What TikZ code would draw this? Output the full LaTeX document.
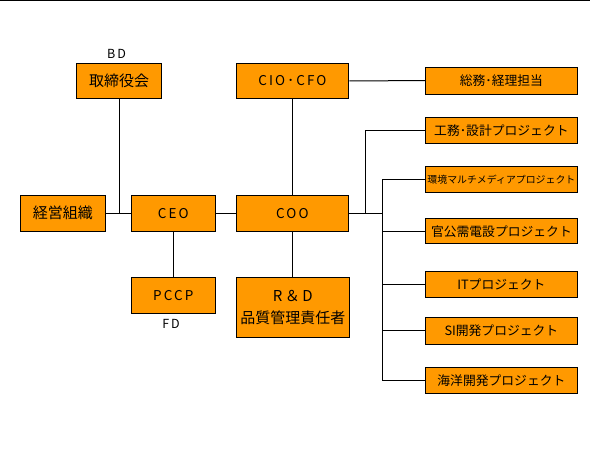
\documentclass[tikz,border=0pt]{standalone}
\usepackage{fontspec}
\setmainfont{Noto Sans CJK JP}
\newfontfamily\lat[LetterSpace=16]{Noto Sans CJK JP}
\definecolor{org}{HTML}{FF9900}
\tikzset{
  box/.style={draw=black, fill=org, line width=1pt, inner sep=0pt, align=center},
  conn/.style={draw=black, line width=1pt},
  big/.style={font=\fontsize{15}{17}\selectfont},
  bigl/.style={font=\lat\fontsize{13.5}{16}\selectfont},
  mid/.style={font=\fontsize{12.8}{14}\selectfont},
  sml/.style={font=\fontsize{9.9}{12}\selectfont},
}
\begin{document}
\begin{tikzpicture}[x=1pt,y=-1pt]
\useasboundingbox (0,0) rectangle (590,458);
\draw[line width=1.2pt] (0,0.6) -- (590,0.6);

\node[box,big,minimum width=85,minimum height=35] (bd) at (119.2,80.8) {取締役会};
\node[box,bigl,minimum width=112.8,minimum height=35] (cio) at (292.4,80.8) {CIO･CFO};
\node[box,mid,minimum width=152.2,minimum height=26.7] (somu) at (501.4,80.7) {総務･経理担当};
\node[box,mid,minimum width=152.2,minimum height=25.7] (komu) at (501.4,130.2) {工務･設計プロジェクト};
\node[box,sml,minimum width=152.2,minimum height=26] (kankyo) at (501.4,179.3) {環境マルチメディアプロジェクト};
\node[box,big,minimum width=85,minimum height=35.7] (keiei) at (62.8,213.2) {経営組織};
\node[box,bigl,minimum width=84,minimum height=35.7] (ceo) at (173.3,213.2) {CEO};
\node[box,bigl,minimum width=112.8,minimum height=35.7] (coo) at (292.4,213.2) {COO};
\node[box,bigl,minimum width=84,minimum height=36] (pccp) at (173.3,295.3) {PCCP};
\node[box,big,minimum width=113,minimum height=60] (rd) at (292.8,307.3) {{\lat R＆D}\\[5pt]品質管理責任者};
\node[box,mid,minimum width=152.2,minimum height=25.3] (kanko) at (501.4,231.3) {官公需電設プロジェクト};
\node[box,mid,minimum width=152.2,minimum height=26] (it) at (501.4,284.3) {ITプロジェクト};
\node[box,mid,minimum width=152.2,minimum height=26.7] (si) at (501.4,330.7) {SI開発プロジェクト};
\node[box,mid,minimum width=152.2,minimum height=26] (kaiyo) at (501.4,380.3) {海洋開発プロジェクト};

\node[font=\lat\fontsize{12.5}{14}\selectfont] (bdl) at (116.5,54) {BD};
\node[font=\lat\fontsize{12.5}{14}\selectfont] (fdl) at (171,323.5) {FD};

\coordinate (b1) at (365.3,213.2);
\coordinate (b2) at (382.3,213.2);

\draw[conn] (bd.south) -- (bd.south |- keiei.east);
\draw[conn] (keiei.east) -- (ceo.west);
\draw[conn] (ceo.east) -- (coo.west);
\draw[conn] (ceo.south) -- (pccp.north);
\draw[conn] (coo.north) -- (coo.north |- cio.south);
\draw[conn] (coo.south) -- (coo.south |- rd.north);
\draw[conn] (cio.east) -- (somu.west);
\draw[conn] (coo.east) -- (b2);
\draw[conn] (b1) |- (komu.west);
\draw[conn] (kankyo.west) -| (kaiyo.west -| b2) -- (kaiyo.west);
\draw[conn] (kanko.west -| b2) -- (kanko.west);
\draw[conn] (it.west -| b2) -- (it.west);
\draw[conn] (si.west -| b2) -- (si.west);
\end{tikzpicture}
\end{document}
